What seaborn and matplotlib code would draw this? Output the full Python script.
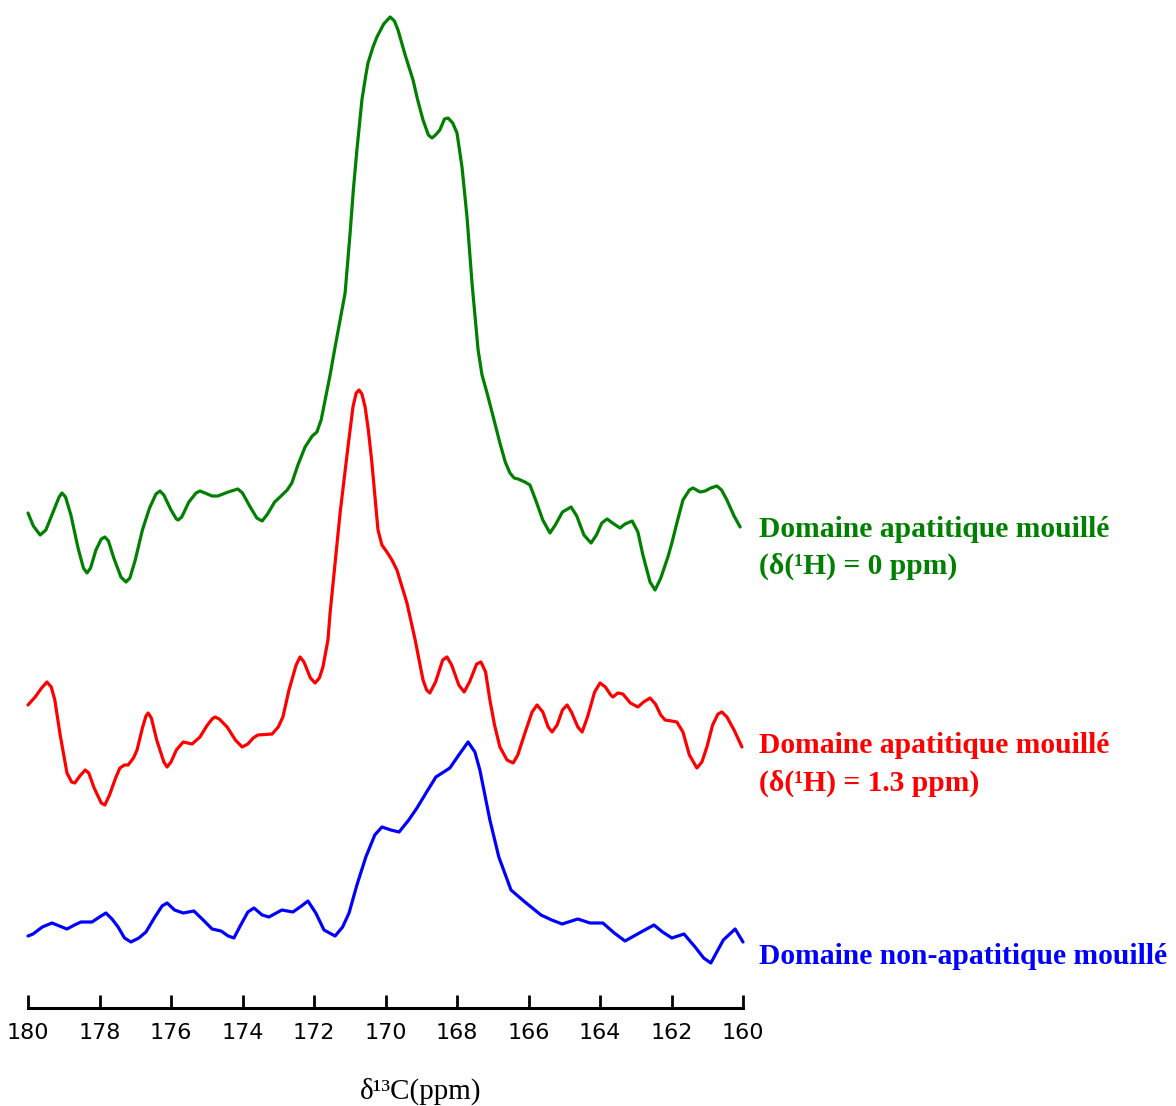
import pandas as pd
import matplotlib
matplotlib.use("Agg")
import matplotlib.pyplot as plt
import seaborn as sns

# chemical shift (ppm) and intensity (arb. units, relative to each trace's baseline)
green_ppm = [180.00, 179.85, 179.66, 179.50, 179.30, 179.13, 179.05, 178.95, 178.80, 178.60,
             178.45, 178.35, 178.25, 178.10, 177.95, 177.85, 177.75, 177.60, 177.40, 177.26,
             177.15, 177.00, 176.80, 176.60, 176.42, 176.31, 176.20, 176.00, 175.85, 175.80,
             175.70, 175.50, 175.30, 175.19, 175.05, 174.85, 174.69, 174.40, 174.13, 174.00,
             173.80, 173.60, 173.45, 173.30, 173.10, 172.95, 172.75, 172.62, 172.45, 172.25,
             172.05, 171.92, 171.80, 171.69, 171.55, 171.41, 171.27, 171.13, 170.99, 170.90,
             170.80, 170.66, 170.55, 170.49, 170.35, 170.24, 170.05, 169.87, 169.75, 169.65,
             169.45, 169.23, 169.10, 168.95, 168.80, 168.70, 168.60, 168.48, 168.35, 168.25,
             168.12, 168.00, 167.86, 167.72, 167.58, 167.41, 167.30, 167.16, 167.00, 166.80,
             166.65, 166.52, 166.40, 166.29, 166.10, 165.96, 165.80, 165.60, 165.40, 165.25,
             165.05, 164.81, 164.65, 164.45, 164.25, 164.10, 163.95, 163.80, 163.65, 163.44,
             163.30, 163.10, 162.94, 162.80, 162.60, 162.46, 162.30, 162.10, 161.99, 161.85,
             161.68, 161.50, 161.40, 161.20, 161.06, 160.90, 160.73, 160.60, 160.45, 160.25,
             160.08]
green_int = [7, -6, -15, -10, 8, 23, 27, 23, 5, -28,
             -48, -53, -48, -30, -19, -17, -21, -38, -57, -62,
             -58, -40, -10, 12, 26, 29, 25, 10, 1, 0,
             3, 18, 27, 29, 27, 24, 24, 28, 31, 27,
             14, 2, -1, 6, 18, 23, 30, 37, 55, 73,
             84, 88, 100, 120, 145, 173, 200, 227, 287, 330,
             370, 420, 445, 457, 473, 483, 496, 503, 499, 490,
             465, 440, 420, 400, 385, 382, 385, 390, 401, 402,
             397, 387, 353, 303, 237, 170, 145, 127, 105, 77,
             58, 47, 42, 41, 38, 35, 20, 0, -13, -5,
             8, 13, 4, -15, -23, -15, -3, 1, -3, -8,
             -4, -1, -12, -35, -62, -70, -58, -37, -23, -3,
             20, 30, 32, 28, 29, 32, 34, 30, 20, 4,
             -7]

red_ppm = [180.00, 179.80, 179.62, 179.47, 179.35, 179.25, 179.10, 178.91, 178.78, 178.69,
           178.55, 178.40, 178.30, 178.15, 177.95, 177.85, 177.72, 177.55, 177.43, 177.30,
           177.20, 177.05, 176.95, 176.80, 176.70, 176.64, 176.55, 176.40, 176.20, 176.11,
           176.00, 175.85, 175.66, 175.41, 175.19, 175.00, 174.85, 174.77, 174.65, 174.43,
           174.20, 174.01, 173.85, 173.70, 173.57, 173.17, 173.00, 172.87, 172.70, 172.50,
           172.39, 172.28, 172.10, 171.97, 171.85, 171.75, 171.61, 171.55, 171.40, 171.27,
           171.05, 170.91, 170.82, 170.74, 170.66, 170.57, 170.48, 170.38, 170.21, 170.10,
           169.96, 169.82, 169.68, 169.40, 169.17, 168.95, 168.85, 168.76, 168.60, 168.40,
           168.28, 168.15, 167.95, 167.80, 167.65, 167.45, 167.33, 167.20, 167.08, 166.95,
           166.80, 166.60, 166.43, 166.30, 166.10, 165.90, 165.76, 165.60, 165.45, 165.34,
           165.20, 165.05, 164.92, 164.80, 164.62, 164.50, 164.35, 164.15, 164.00, 163.85,
           163.70, 163.64, 163.50, 163.36, 163.15, 162.94, 162.78, 162.60, 162.45, 162.30,
           162.18, 162.00, 161.85, 161.68, 161.50, 161.29, 161.15, 161.01, 160.85, 160.70,
           160.59, 160.45, 160.25, 160.03]
red_int = [15, 23, 32, 38, 33, 20, -15, -53, -62, -63,
           -56, -50, -53, -68, -83, -85, -75, -58, -48, -45,
           -45, -38, -30, -8, 4, 7, 2, -20, -42, -47,
           -42, -30, -22, -24, -17, -6, 1, 3, 1, -7,
           -20, -27, -24, -18, -15, -14, -7, 3, 30, 55,
           63, 58, 42, 37, 42, 53, 80, 107, 160, 207,
           273, 313, 327, 330, 326, 313, 290, 257, 190, 175,
           168, 160, 150, 117, 80, 40, 30, 27, 38, 60,
           63, 55, 35, 28, 38, 56, 58, 48, 20, -5,
           -27, -40, -43, -35, -13, 8, 15, 8, -7, -12,
           -5, 10, 15, 8, -7, -12, 3, 28, 37, 33,
           25, 23, 27, 26, 17, 13, 18, 22, 16, 5,
           0, -1, -2, -12, -35, -48, -42, -27, -5, 6,
           8, 3, -10, -27]

blue_ppm = [180.00, 179.86, 179.60, 179.33, 179.12, 178.91, 178.70, 178.52, 178.21, 178.00,
            177.82, 177.65, 177.48, 177.30, 177.12, 176.90, 176.70, 176.45, 176.25, 176.11,
            175.90, 175.66, 175.36, 175.10, 174.85, 174.60, 174.40, 174.24, 174.05, 173.85,
            173.68, 173.45, 173.26, 172.90, 172.59, 172.35, 172.17, 171.95, 171.72, 171.41,
            171.20, 171.02, 170.80, 170.55, 170.30, 170.10, 169.85, 169.62, 169.35, 169.12,
            168.85, 168.59, 168.20, 167.95, 167.69, 167.50, 167.36, 167.08, 166.83, 166.49,
            166.10, 165.65, 165.35, 165.06, 164.62, 164.28, 163.92, 163.60, 163.30, 163.05,
            162.85, 162.49, 162.25, 161.99, 161.65, 161.34, 161.10, 160.90, 160.55, 160.22,
            160.00]
blue_int = [-6, -4, 3, 7, 4, 1, 5, 8, 8, 13,
            17, 11, 3, -8, -12, -8, -2, 13, 24, 27,
            20, 17, 19, 10, 1, -1, -6, -8, 5, 18,
            22, 15, 13, 20, 18, 24, 29, 17, 0, -6,
            3, 17, 45, 73, 95, 103, 100, 98, 110, 122,
            138, 153, 162, 175, 188, 178, 160, 110, 73, 40,
            28, 15, 10, 6, 11, 7, 7, -3, -11, -6,
            -2, 5, -2, -8, -4, -17, -28, -33, -10, 1,
            -12]

names = ["green", "red", "blue"]
offsets = [410, 210, 0]
colors = {"green": "#008000", "red": "#ff0000", "blue": "#0000ff"}
labels = {
    "green": ["Domaine apatitique mouillé", "(δ(¹H) = 0 ppm)"],
    "red": ["Domaine apatitique mouillé", "(δ(¹H) = 1.3 ppm)"],
    "blue": ["Domaine non-apatitique mouillé"],
}
label_y = {"green": [537, 574], "red": [753, 791], "blue": [964]}

frames = []
for name, ppm, inten, off in zip(names, [green_ppm, red_ppm, blue_ppm],
                                 [green_int, red_int, blue_int], offsets):
    d = pd.DataFrame({"ppm": ppm, "intensity": [v + off for v in inten]})
    d["trace"] = name
    frames.append(d)
df = pd.concat(frames, ignore_index=True)

sns.set_style("white")
W, H = 1176, 1106
fig = plt.figure(figsize=(W / 100, H / 100), dpi=100)
ax = fig.add_axes([28 / W, (H - 1008) / H, 715 / W, 998 / H])

sns.lineplot(data=df, x="ppm", y="intensity", hue="trace", palette=colors,
             estimator=None, sort=False, linewidth=2.3, legend=False, ax=ax)

ax.set_xlim(180, 160)
ax.set_ylim(-78, 920)
ax.set_xticks(range(180, 159, -2))
ax.set_yticks([])
ax.set_xlabel("")
ax.set_ylabel("")
for s in ["left", "top", "right"]:
    ax.spines[s].set_visible(False)
ax.spines["bottom"].set_linewidth(2.2)
ax.spines["bottom"].set_color("black")
ax.tick_params(axis="x", bottom=True, direction="in", length=9.5, width=2.0, pad=11,
               labelsize=16, colors="black", labelcolor="black")
for c in ax.get_children():
    if hasattr(c, "set_clip_on"):
        c.set_clip_on(False)

serif = ["Liberation Serif", "DejaVu Serif"]
for name in names:
    for line, yp in zip(labels[name], label_y[name]):
        fig.text(759 / W, (H - yp) / H, line, color=colors[name], fontsize=21.3,
                 fontweight="bold", family=serif, ha="left", va="baseline")

fig.text(421 / W, (H - 1099) / H, "δ¹³C(ppm)", fontsize=21, family=serif,
         color="black", ha="center", va="baseline")

fig.savefig("out.png", dpi=100)
